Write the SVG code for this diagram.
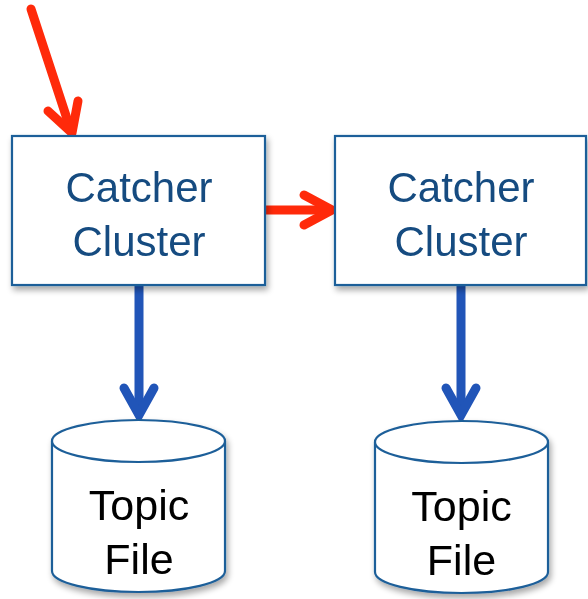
<svg xmlns="http://www.w3.org/2000/svg" width="588" height="599" viewBox="0 0 588 599">
  <style>
    .box { fill: #ffffff; stroke: #1f5f99; stroke-width: 2.2; }
    .cyl { fill: #ffffff; stroke: #1f5f99; stroke-width: 2.2; }
    .label-blue { font-family: "Liberation Sans", "Open Sans", sans-serif; font-size: 42px; fill: #134b80; text-anchor: middle; }
    .label-black { font-family: "Liberation Sans", "Open Sans", sans-serif; font-size: 43px; fill: #000000; text-anchor: middle; }
    .red { fill: none; stroke: #ff2a0a; stroke-width: 9; stroke-linecap: round; stroke-linejoin: round; }
    .blue { fill: none; stroke: #2155b8; stroke-width: 9; stroke-linecap: butt; stroke-linejoin: round; }
    .head { fill: none; stroke: #2155b8; stroke-width: 9; stroke-linecap: round; stroke-linejoin: miter; }
  </style>
  <defs>
    <filter id="shadow" x="-10%" y="-10%" width="125%" height="130%">
      <feGaussianBlur in="SourceAlpha" stdDeviation="3"/>
      <feOffset dx="2" dy="4" result="b"/>
      <feComponentTransfer><feFuncA type="linear" slope="0.35"/></feComponentTransfer>
      <feMerge><feMergeNode/><feMergeNode in="SourceGraphic"/></feMerge>
    </filter>
  </defs>

  <g id="connectors">
    <!-- incoming red arrow -->
    <path class="red" d="M31,9 L71,131"/>
    <path class="red" d="M48,111 L72,133 L78,101"/>
    <!-- red arrow between clusters -->
    <path class="red" d="M266,210 L330,210"/>
    <path class="red" d="M304,195 L332,210 L304,225"/>
    <!-- blue arrows down to files -->
    <path class="blue" d="M139,285 L139,413"/>
    <path class="head" d="M124,388 L139,415 L154,388"/>
    <path class="blue" d="M461,285 L461,413"/>
    <path class="head" d="M446,388 L461,415 L476,388"/>
  </g>

  <g id="cluster1" filter="url(#shadow)">
    <rect class="box" x="12" y="136" width="253" height="149"/>
    <text class="label-blue" x="139" y="202">Catcher</text>
    <text class="label-blue" x="139" y="256">Cluster</text>
  </g>

  <g id="cluster2" filter="url(#shadow)">
    <rect class="box" x="335" y="136" width="251" height="149"/>
    <text class="label-blue" x="461" y="202">Catcher</text>
    <text class="label-blue" x="461" y="256">Cluster</text>
  </g>

  <g id="file1" filter="url(#shadow)">
    <path class="cyl" d="M52,441 L52,571 A86.5,21 0 0 0 225,571 L225,441 A86.5,21 0 0 0 52,441 Z"/>
    <path class="cyl" d="M52,441 A86.5,21 0 0 0 225,441" fill="none"/>
    <text class="label-black" x="139" y="520">Topic</text>
    <text class="label-black" x="139" y="574">File</text>
  </g>

  <g id="file2" filter="url(#shadow)">
    <path class="cyl" d="M375,442 L375,572 A86.5,21 0 0 0 548,572 L548,442 A86.5,21 0 0 0 375,442 Z"/>
    <path class="cyl" d="M375,442 A86.5,21 0 0 0 548,442" fill="none"/>
    <text class="label-black" x="461.5" y="521">Topic</text>
    <text class="label-black" x="461.5" y="575">File</text>
  </g>
</svg>
